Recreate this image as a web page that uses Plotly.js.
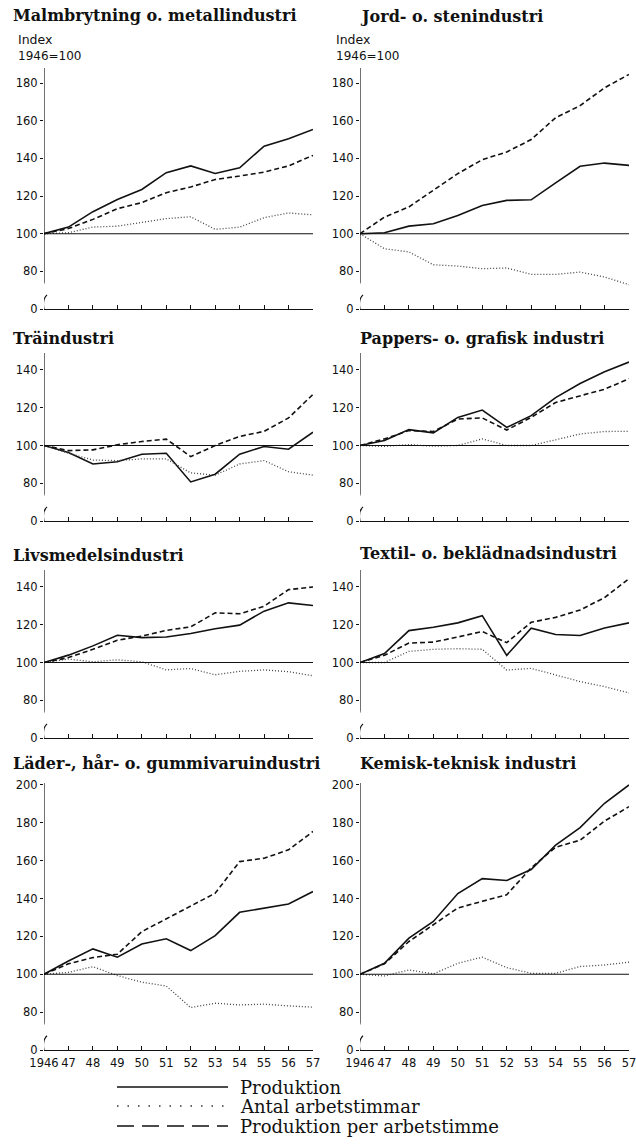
<!DOCTYPE html>
<html><head><meta charset="utf-8">
<script src="https://cdn.plot.ly/plotly-3.0.1.min.js"></script>
<style>html,body{margin:0;padding:0;background:#fff}</style>
</head><body><div id="chart" style="width:636px;height:1145px"></div>
<script>
// ---------- DATA ----------
const years = [1946,1947,1948,1949,1950,1951,1952,1953,1954,1955,1956,1957];
const yearLabels = ['1946','47','48','49','50','51','52','53','54','55','56','57'];
const titles = ['Malmbrytning o. metallindustri','Jord- o. stenindustri','Träindustri','Pappers- o. grafisk industri','Livsmedelsindustri','Textil- o. beklädnadsindustri','Läder-, hår- o. gummivaruindustri','Kemisk-teknisk industri'];
const seriesNames = ['Produktion','Antal arbetstimmar','Produktion per arbetstimme'];

const malmProd = [100,103.5,111.7,118.2,123.5,132.4,136,132,135,146.5,150.4,155.4];
const malmTim  = [100,100.5,103.5,104,106,108,109,102.3,103.5,108.5,111,110];
const malmPer  = [100,102.7,107.6,113.3,116.5,121.8,124.8,128.8,130.6,132.7,136,141.6];

const jordProd = [100,100.5,104,105.3,109.7,115,117.7,118,127,135.8,137.5,136.3];
const jordTim  = [100,92,90.3,83.5,82.8,81.4,81.8,78.4,78.4,79.6,77,72.9];
const jordPer  = [100,108.8,114.2,123,131.9,139.3,143.4,150,161.6,168,177.5,184.6];

const traProd = [100,96.3,90.2,91.4,95.4,95.9,80.7,84.8,95.4,99.5,98,107];
const traTim  = [100,95.9,92.3,92,92.9,92.9,85.5,84.3,90.2,92,86.1,84.3];
const traPer  = [100,97.3,97.7,100.4,102.1,103.4,94.1,100,104.8,107.5,114.6,127.1];

const papProd = [100,102.6,108.4,106.7,114.9,118.8,109.6,115.8,125.4,132.8,139.1,144.2];
const papTim  = [100,99.5,100.5,99.6,100,103.5,100,100,103,106.1,107.4,107.5];
const papPer  = [100,103.5,107.9,107.4,114,114.6,108.2,114.9,122.8,126.3,129.8,135.4];

const livProd = [100,103.9,108.8,114.4,113.2,113.5,115.4,117.9,119.8,127.2,131.6,130.2];
const livTim  = [100,101.8,100.4,101.4,100.4,96.1,96.8,93.5,95.3,96.1,95.1,93];
const livPer  = [100,102.6,107,111.8,114,117,118.9,126.3,125.8,129.8,138.6,140];

const texProd = [100,104.7,116.9,118.7,121,124.8,103.8,118.2,114.8,114.3,118.3,121];
const texTim  = [100,100,105.9,107,107.3,107,96,96.9,93.4,89.9,87.2,83.8];
const texPer  = [100,103.8,110.3,110.8,113.5,116.4,110.5,121.3,123.9,127.8,134.4,144.4];

const ladProd = [100,107,113.4,109,116,118.7,112.5,120.4,132.7,134.9,137.1,143.7];
const ladTim  = [100,101,104,99.3,95.8,93.8,82.4,84.7,83.8,84.2,83.3,82.6];
const ladPer  = [100,105.5,108.8,110.6,122.5,129.2,135.7,142.8,159.5,161.3,165.7,175.4];

const kemProd = [100,105.8,119.1,127.9,142.6,150.5,149.5,155.3,168.2,177.4,190.3,200];
const kemTim  = [100,99.1,102.3,100.2,105.8,109,103.5,100.5,100.5,104.1,104.9,106.4];
const kemPer  = [100,105.5,117.3,126.1,135,138.5,142,156.2,167.1,170.8,180.9,188.5];

const panelData = [
  [malmProd,malmTim,malmPer],[jordProd,jordTim,jordPer],
  [traProd,traTim,traPer],[papProd,papTim,papPer],
  [livProd,livTim,livPer],[texProd,texTim,texPer],
  [ladProd,ladTim,ladPer],[kemProd,kemTim,kemPer]
];
const rowTicks = [[80,100,120,140,160,180],[80,100,120,140],[80,100,120,140],[80,100,120,140,160,180,200]];

// ---------- LAYOUT (pixels) ----------
const W = 636, H = 1145;
const px = v => v / W;
const py = v => 1 - v / H;
const colX = [[44,313],[360,629]];
const rowY = [[68,309],[353,521],[570,738],[783,1050]];   // top, bottom px
const rowTop = [188,149,149,201];                      // value at top
const BOTTOM = 60;                                     // value drawn as "0" (axis break)
const titleY = [[15,17],[338,338],[555,553],[763,763]];
const titleX = [11,358];

const tickFont = {family:'DejaVu Sans, Arial, sans-serif', size:11.5, color:'#111'};
const styles = [
  {color:'#111', width:1.6, dash:'solid'},
  {color:'#444', width:1.3, dash:'1px,2px'},
  {color:'#111', width:1.6, dash:'5px,3px'}
];

const traces = [];
const layout = {
  width: W, height: H, margin:{l:0,r:0,t:0,b:0},
  paper_bgcolor:'#fff', plot_bgcolor:'rgba(0,0,0,0)',
  showlegend:false, shapes:[], annotations:[]
};

for (let i = 0; i < 8; i++) {
  const row = Math.floor(i/2), col = i % 2;
  const n = i + 1, sfx = n === 1 ? '' : String(n);
  const xa = 'x' + sfx, ya = 'y' + sfx;
  panelData[i].forEach((ser, k) => {
    traces.push({x: years, y: ser, xaxis: xa, yaxis: ya, mode:'lines',
      name: seriesNames[k], line: Object.assign({shape:'linear'}, styles[k]),
      hoverinfo:'skip'});
  });
  layout['xaxis' + sfx] = {
    domain:[px(colX[col][0]), px(colX[col][1])], anchor: ya,
    range:[1946,1957], showgrid:false, zeroline:false,
    showline:true, linecolor:'#111', linewidth:1.2,
    tickvals: years, ticktext: yearLabels, ticks:'inside', ticklen:4, tickcolor:'#111', tickwidth:1,
    showticklabels: row === 3, tickfont: tickFont, ticklabeloverflow:'allow',
    ticklabelstandoff: 2, fixedrange:true
  };
  const tv = [BOTTOM].concat(rowTicks[row]);
  const tt = ['0'].concat(rowTicks[row].map(String));
  layout['yaxis' + sfx] = {
    domain:[py(rowY[row][1]), py(rowY[row][0])], anchor: xa,
    range:[BOTTOM, rowTop[row]], showgrid:false, zeroline:false, showline:false,
    tickvals: tv, ticktext: tt, ticks:'outside', ticklen:3, tickcolor:'#111', tickwidth:1,
    tickfont: tickFont, fixedrange:true
  };
  // reference line at 100
  layout.shapes.push({type:'line', xref:xa, yref:ya, x0:1946, x1:1957, y0:100, y1:100,
    line:{color:'#111', width:1.1}});
  // y axis with break
  layout.shapes.push({type:'line', xref:xa, yref:ya, x0:1946, x1:1946, y0:74, y1:rowTop[row],
    line:{color:'#111', width:1.2}});
  layout.shapes.push({type:'line', xref:xa, yref:ya, xsizemode:'pixel', xanchor:1946,
    x0:0, x1:-3, y0:74, y1:70, line:{color:'#111', width:1.2}});
  layout.shapes.push({type:'path', xref:xa, yref:ya, xsizemode:'pixel', xanchor:1946,
    path:'M 3,67.5 Q -2,65 0,60', line:{color:'#111', width:1.2}});
  // title
  layout.annotations.push({text:'<b>' + titles[i] + '</b>', xref:'paper', yref:'paper',
    x: px(titleX[col]), y: py(titleY[row][col]), xanchor:'left', yanchor:'middle',
    showarrow:false, font:{family:'DejaVu Serif, serif', size:16, color:'#111'}});
}
// Index labels
[16,334].forEach(xp => {
  layout.annotations.push({text:'Index', xref:'paper', yref:'paper', x:px(xp), y:py(40),
    xanchor:'left', yanchor:'middle', showarrow:false, font:{family:'DejaVu Sans, sans-serif', size:12.5, color:'#111'}});
  layout.annotations.push({text:'1946=100', xref:'paper', yref:'paper', x:px(xp), y:py(56),
    xanchor:'left', yanchor:'middle', showarrow:false, font:{family:'DejaVu Sans, sans-serif', size:12, color:'#111'}});
});
// Legend (manual)
const legY = [1087,1106,1126];
seriesNames.forEach((nm, k) => {
  const st = k === 1 ? {color:'#333', width:1.6, dash:'1.5px,9px'} : (k === 2 ? {color:'#111', width:1.3, dash:'17px,8px'} : {color:'#111', width:1.4, dash:'solid'});
  layout.shapes.push({type:'line', xref:'paper', yref:'paper', x0:px(117), x1:px(228),
    y0:py(legY[k]), y1:py(legY[k]), line:st});
  layout.annotations.push({text:nm, xref:'paper', yref:'paper', x:px(238), y:py(legY[k]),
    xanchor:'left', yanchor:'middle', showarrow:false,
    font:{family:'DejaVu Serif, serif', size:18, color:'#111'}});
});

Plotly.newPlot('chart', traces, layout, {staticPlot:true, displayModeBar:false});
</script>
</body></html>
